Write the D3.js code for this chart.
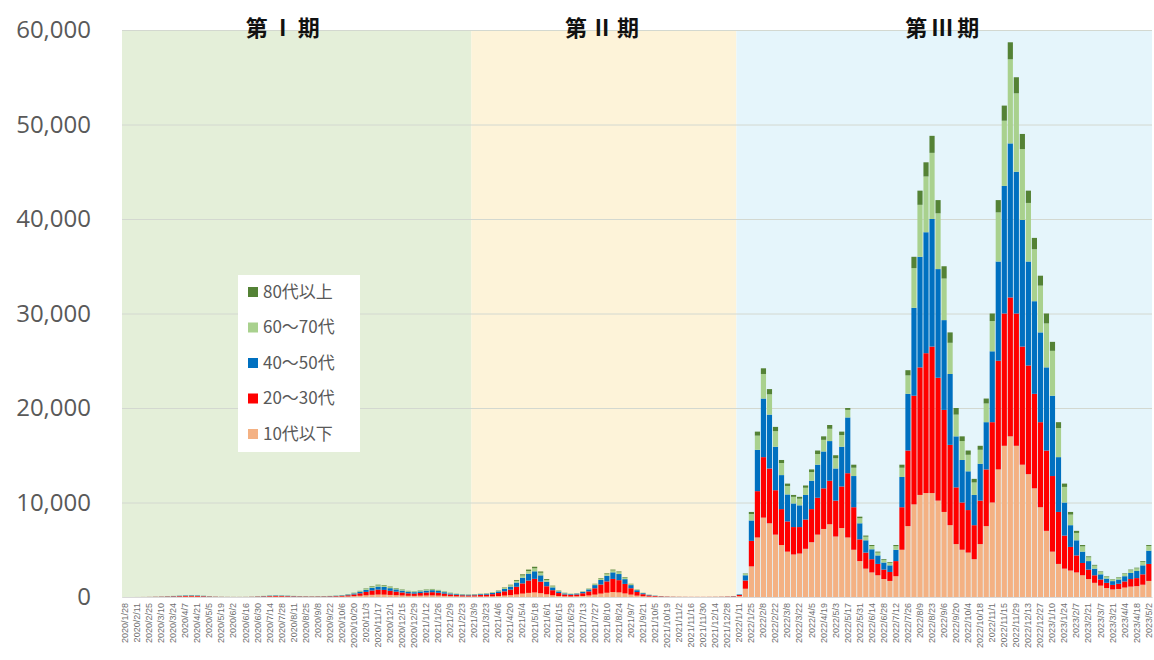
<!DOCTYPE html>
<html>
<head>
<meta charset="utf-8">
<script src="https://cdn.jsdelivr.net/npm/d3@7"></script>
<style>
  body { margin: 0; background: #fff; }
  svg { display: block; font-family: "Open Sans", "Noto Sans CJK JP", sans-serif; }
</style>
</head>
<body>
<div id="chart"></div>
<script>
// weekly categories, starting 2020/1/28
var weekCount = 171;
var startDate = new Date(2020, 0, 28);

var seriesNames = ["10代以下", "20～30代", "40～50代", "60～70代", "80代以上"];
var seriesColors = ["#f4b183", "#ff0000", "#0070c0", "#a9d18e", "#548235"];
var legendNames = ["80代以上", "60～70代", "40～50代", "20～30代", "10代以下"];

var phaseNames = ["第Ⅰ期", "第Ⅱ期", "第Ⅲ期"];
var phaseStarts = ["2020/1/28", "2021/3/9", "2022/1/11"];
var phaseColors = ["#e4efd9", "#fdf3d9", "#e5f5fb"];

var yTicks = [0, 10000, 20000, 30000, 40000, 50000, 60000];

// 10代以下
var age10 = [
  0,0,1,2,4,8,12,18, 24,30,36,40,36,28,18,10, 6,4,3,3,4,8,
  16,24,32,36,34,30,24,20,18,16, 18,20,24,30,40,60,90,
  130,180,230,260,250,220,190,160, 130,120,140, 160,170,150,120,90, 70,60,56,60,
  52,60,75,105,150, 195,270,360,435,480,405,285,180,105,68,52,72,
  108,162,252,360,450,522,486,378,252,144,81,45,27,18,
  11,7,5,5,4,4,4,5,5,7,11,20,
  90,875,3240,6300,8400,7800,6600,5500,4800,4500,4600,5100,5800,6600,7200,7700,
  6400,7300,6300,5000,3800,3000,2600,2300,1900,1700,2200,5000,7500,9800,10800,11000,
  11000,10200,9000,7600,5600,5000,4700,4000,5600,7500,10000,13500,16000,17000,16000,14000,
  13000,11500,9500,7000,4800,3500,3000,2800,2600,2300,1900,1500,1200,950,800,850,
  1000,1100,1150,1300,1700
];
// 20～30代
var age20 = [
  0,0,2,4,8,16,24,36, 48,60,72,80,72,56,36,20, 12,8,6,6,8,16,
  32,48,64,72,68,60,48,40,36,32, 36,40,48,60,80,120,180,
  260,360,460,520,500,440,380,320, 260,240,280, 320,340,300,240,180, 140,120,112,120,
  158,180,225,315,450, 585,810,1080,1305,1440,1215,855,540,315,202,158,192,
  288,432,672,960,1200,1392,1296,1008,672,384,216,120,72,48,
  29,19,14,12,10,10,10,12,14,19,29,45,
  120,875,2700,4900,6400,5800,4700,3800,3200,2900,2800,3100,3500,3900,4300,4600,
  3800,4400,6800,4500,2300,1700,1400,1200,1000,950,1600,4500,8000,11500,13500,14800,
  15500,13000,10800,8500,6000,5000,4500,3600,4600,6000,8500,11500,14000,14700,14000,12500,
  11500,10000,9000,8500,8000,5500,3500,2500,1800,1300,1000,800,650,550,480,550,
  650,800,850,1100,1800
];
// 40～50代
var age40 = [
  0,0,1,2,5,10,15,22, 30,38,45,50,45,35,22,12, 8,5,4,4,5,10,
  20,30,40,45,42,38,30,25,22,20, 22,25,30,38,50,75,112,
  162,225,288,325,312,275,238,200, 162,150,175, 200,212,188,150,112, 88,75,70,75,
  88,100,125,175,250, 325,450,600,725,800,675,475,300,175,112,88,96,
  144,216,336,480,600,696,648,504,336,192,108,60,36,24,
  14,10,7,6,5,5,5,6,7,10,14,25,
  60,550,2160,4375,6200,5700,4600,3600,2850,2500,2300,2600,3000,3500,3900,4200,
  3400,4200,5900,3300,1700,1300,1050,900,750,700,1200,3200,6000,9300,11700,12800,
  13500,11500,9500,7500,5400,4500,4100,3200,3900,5000,7500,10500,13500,16300,15000,13400,
  11000,9800,9500,8800,8500,5800,3500,2300,1600,1200,900,700,550,450,400,450,
  550,650,750,950,1400
];
// 60～70代
var age60 = [
  0,0,1,1,2,4,6,9, 12,15,18,20,18,14,9,5, 3,2,1,1,2,4,
  8,12,16,18,17,15,12,10,9,8, 9,10,12,15,20,30,45,
  65,90,115,130,125,110,95,80, 65,60,70, 80,85,75,60,45, 35,30,28,30,
  35,40,50,70,100, 130,180,240,290,320,270,190,120,70,45,35,28,
  42,63,98,140,175,203,189,147,98,56,32,18,10,7,
  4,3,3,1,1,1,1,1,3,3,4,7,
  21,160,680,1500,2600,2150,1650,1280,900,700,700,760,920,1130,1230,1300,
  1080,1240,800,880,540,380,345,300,270,270,380,980,1950,4200,5500,5900,
  7000,5900,4400,3300,2300,2000,1750,1320,1480,1980,3200,5200,6900,8900,8300,7500,
  6200,5500,4950,4650,4750,3080,1650,1120,780,560,400,320,240,200,180,200,
  245,285,285,370,500
];
// 80代以上
var age80 = [
  0,0,0,1,1,2,3,5, 6,7,9,10,9,7,5,3, 1,1,1,1,1,2,
  4,6,8,9,9,7,6,5,5,4, 5,5,6,7,10,15,23,
  33,45,57,65,63,55,47,40, 33,30,35, 40,43,37,30,23, 17,15,14,15,
  17,20,25,35,50, 65,90,120,145,160,135,95,60,35,23,17,12,
  18,27,42,60,75,87,81,63,42,24,13,7,5,3,
  2,1,1,1,0,0,0,1,1,1,2,3,
  9,40,220,425,600,550,450,320,250,200,200,240,280,370,370,400,
  320,360,200,320,160,120,105,100,80,80,120,320,550,1200,1500,1500,
  1800,1400,1300,1100,700,500,450,380,420,520,800,1300,1600,1800,1700,1600,
  1300,1200,1050,1050,950,620,350,280,220,140,100,80,60,50,40,50,
  55,65,65,80,100
];

var width = 1154, height = 660;
var plotLeft = 122, plotRight = 1152, plotTop = 30, plotBottom = 597;

function fmtDate(d) {
  return d.getFullYear() + "/" + (d.getMonth() + 1) + "/" + d.getDate();
}

var weeks = d3.range(weekCount).map(function (i) {
  return fmtDate(new Date(startDate.getFullYear(), startDate.getMonth(), startDate.getDate() + 7 * i));
});

var columns = [age10, age20, age40, age60, age80];
var table = weeks.map(function (w, i) {
  var row = { week: w };
  seriesNames.forEach(function (name, k) { row[name] = columns[k][i]; });
  return row;
});

var svg = d3.select("#chart").append("svg")
  .attr("width", width)
  .attr("height", height);

svg.append("rect").attr("width", width).attr("height", height).attr("fill", "#fff");

var x = d3.scaleBand()
  .domain(weeks)
  .range([plotLeft, plotRight])
  .paddingInner(0.14)
  .paddingOuter(0.1);

var y = d3.scaleLinear()
  .domain([0, 60000])
  .range([plotBottom, plotTop]);

// phase backgrounds
var half = x.step() * x.paddingInner() / 2;
var phaseEdges = phaseStarts.map(function (s, i) {
  return i === 0 ? plotLeft : x(s) - half;
});
phaseEdges.push(plotRight);

svg.append("g").selectAll("rect")
  .data(phaseNames)
  .enter()
  .append("rect")
  .attr("x", function (d, i) { return phaseEdges[i]; })
  .attr("y", plotTop)
  .attr("width", function (d, i) { return phaseEdges[i + 1] - phaseEdges[i]; })
  .attr("height", plotBottom - plotTop + 1)
  .attr("fill", function (d, i) { return phaseColors[i]; });

// gridlines
svg.append("g").selectAll("line")
  .data(yTicks.slice(1))
  .enter()
  .append("line")
  .attr("x1", plotLeft)
  .attr("x2", plotRight)
  .attr("y1", function (d) { return y(d) + 0.5; })
  .attr("y2", function (d) { return y(d) + 0.5; })
  .attr("stroke", "#d3d8d0")
  .attr("stroke-width", 1);

// stacked bars
var stacked = d3.stack().keys(seriesNames)(table);

svg.append("g").selectAll("g")
  .data(stacked)
  .enter()
  .append("g")
  .attr("fill", function (d, i) { return seriesColors[i]; })
  .selectAll("rect")
  .data(function (d) { return d; })
  .enter()
  .append("rect")
  .attr("x", function (d) { return x(d.data.week); })
  .attr("width", x.bandwidth())
  .attr("y", function (d) { return y(d[1]); })
  .attr("height", function (d) { return Math.max(0, y(d[0]) - y(d[1])); });

// y axis
var yAxis = svg.append("g")
  .attr("transform", "translate(" + (plotLeft - 31) + ",0)")
  .call(d3.axisLeft(y).tickValues(yTicks).tickFormat(d3.format(",")).tickSize(0).tickPadding(0));
yAxis.select(".domain").remove();
yAxis.selectAll("text")
  .attr("font-family", "'Open Sans', sans-serif")
  .attr("font-size", 24)
  .attr("fill", "#595959");

// x axis: label every other week
var xAxis = svg.append("g")
  .attr("transform", "translate(0," + plotBottom + ")")
  .call(d3.axisBottom(x)
    .tickValues(weeks.filter(function (d, i) { return i % 2 === 0; }))
    .tickSize(0)
    .tickPadding(0));
xAxis.select(".domain").attr("stroke", "#d9d9d9");
xAxis.selectAll("text")
  .attr("font-family", "'Liberation Sans', sans-serif")
  .attr("font-size", 9)
  .attr("fill", "#6f6f6f")
  .attr("text-anchor", "end")
  .attr("dy", "0.32em")
  .attr("transform", "translate(0,6) rotate(-90)")
  .attr("x", 0)
  .attr("y", 0);

// phase titles
svg.append("g").selectAll("text")
  .data(phaseNames)
  .enter()
  .append("text")
  .attr("x", function (d, i) { return (phaseEdges[i] + phaseEdges[i + 1]) / 2 - (i === 0 ? 12 : 0); })
  .attr("y", 36)
  .attr("text-anchor", "middle")
  .attr("font-family", "'Noto Sans CJK JP', sans-serif")
  .attr("font-weight", "bold")
  .attr("font-size", 22)
  .attr("letter-spacing", 4)
  .attr("fill", "#111")
  .text(function (d) { return d; });

// legend
var legend = svg.append("g").attr("transform", "translate(238,275)");
legend.append("rect")
  .attr("width", 122)
  .attr("height", 177)
  .attr("fill", "#fff");

var item = legend.selectAll("g.item")
  .data(legendNames)
  .enter()
  .append("g")
  .attr("class", "item")
  .attr("transform", function (d, i) { return "translate(10," + (17 + i * 35.5) + ")"; });

item.append("rect")
  .attr("x", 0)
  .attr("y", -5)
  .attr("width", 10)
  .attr("height", 10)
  .attr("fill", function (d) { return seriesColors[seriesNames.indexOf(d)]; });

item.append("text")
  .attr("x", 15)
  .attr("dy", "0.35em")
  .attr("font-family", "'Noto Sans CJK JP', sans-serif")
  .attr("font-size", 17)
  .attr("fill", "#595959")
  .text(function (d) { return d; });
</script>
</body>
</html>
